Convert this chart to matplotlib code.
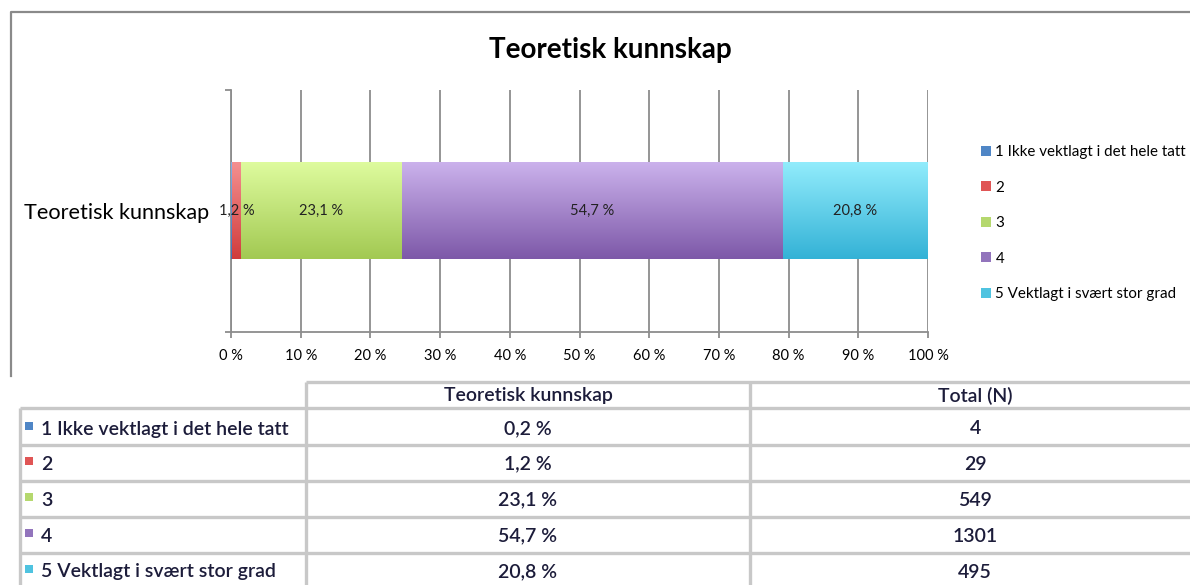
"""Stacked bar of 'Teoretisk kunnskap' with a data table underneath."""

import numpy as np
import matplotlib.pyplot as plt
from matplotlib.colors import LinearSegmentedColormap

plt.rcParams["font.family"] = ["Lato", "DejaVu Sans"]

category = "Teoretisk kunnskap"
series_labels = [
    "1 Ikke vektlagt i det hele tatt",
    "2",
    "3",
    "4",
    "5 Vektlagt i svært stor grad",
]
percent_values = [0.2, 1.2, 23.1, 54.7, 20.8]
total_counts = [4, 29, 549, 1301, 495]
table_headers = ["Teoretisk kunnskap", "Total (N)"]
x_ticks = [0, 10, 20, 30, 40, 50, 60, 70, 80, 90, 100]

# (bottom, top) gradient colours, plus a flat colour for legend keys
gradients = [
    ("#3f74b8", "#7fb0e8"),
    ("#d03c3c", "#f49090"),
    ("#a2c952", "#defb9e"),
    ("#7d58a8", "#cbb2ec"),
    ("#33b2d6", "#92ecfc"),
]
flat_colors = ["#4f86c6", "#e05555", "#b5d86e", "#9274bc", "#4fc3e0"]

W, H = 1190, 585
fig = plt.figure(figsize=(W / 100, H / 100), dpi=100)

# overlay in pixel coordinates for the frame and the table
over = fig.add_axes([0, 0, 1, 1])
over.set_xlim(0, W)
over.set_ylim(H, 0)
over.axis("off")

axis = fig.add_axes([231 / W, 1 - 332 / H, (928 - 231) / W, (332 - 90) / H])

gray = "#8c8c8c"
left = 0.0
for index, value in enumerate(percent_values):
    bars = axis.barh(
        [0], [value], left=left, height=0.4,
        color=flat_colors[index], label=series_labels[index], zorder=2,
    )
    patch = bars.patches[0]
    cmap = LinearSegmentedColormap.from_list(f"g{index}", list(gradients[index]))
    axis.imshow(
        np.linspace(0, 1, 256).reshape(-1, 1),
        extent=(patch.get_x(), patch.get_x() + patch.get_width(),
                patch.get_y(), patch.get_y() + patch.get_height()),
        origin="lower", aspect="auto", cmap=cmap, zorder=3,
    )
    text = "" if value < 1 else f"{value:.1f} %".replace(".", ",")
    axis.bar_label(bars, labels=[text], label_type="center",
                   fontsize=10.5, color="#222222", zorder=5)
    left += value

axis.set_xlim(0, 100)
axis.set_ylim(-0.5, 0.5)
axis.set_xticks(x_ticks, labels=[f"{t} %" for t in x_ticks], fontsize=10.5)
axis.set_yticks([-0.5, 0.5], labels=["", ""])
axis.set_yticks([0], labels=[category], minor=True)
axis.tick_params(axis="y", which="minor", length=0, pad=16, labelsize=15.6)
axis.tick_params(axis="both", which="major", length=4, color=gray, width=1.3)
axis.tick_params(axis="x", pad=8)
axis.grid(axis="x", color=gray, linewidth=1.3, zorder=1)
for side in ("top", "right"):
    axis.spines[side].set_visible(False)
for side in ("left", "bottom"):
    axis.spines[side].set_color(gray)
    axis.spines[side].set_linewidth(1.3)

fig.text(610 / W, 1 - 50 / H, category, ha="center", va="center",
         fontsize=20, fontweight="bold")

handles, labels = axis.get_legend_handles_labels()
fig.legend(handles, labels, loc="upper left", bbox_to_anchor=(975 / W, 1 - 139 / H),
           frameon=False, fontsize=10.9, handlelength=0.65, handleheight=0.65,
           handletextpad=0.3, labelspacing=1.42, borderaxespad=0)

# outer chart frame
over.plot([11, 11, W], [376, 12, 12], color="#8a8a8a", linewidth=1.6)

# table
line_kw = dict(color="#c8c8c8", linewidth=2.4, solid_capstyle="butt")
row_lines = [408, 445, 481, 517, 553]
over.plot([306, W], [382, 382], **line_kw)
for y in row_lines:
    over.plot([20, W], [y, y], **line_kw)
over.plot([20, 20], [408, H], **line_kw)
over.plot([306, 306], [382, H], **line_kw)
over.plot([750, 750], [382, H], **line_kw)

text_color = "#1c1c3a"
cell_kw = dict(va="center", fontsize=14, color=text_color, fontweight="semibold")
over.text(528, 396, table_headers[0], ha="center", **cell_kw)
over.text(975, 396, table_headers[1], ha="center", **cell_kw)
row_centers = [429, 464, 500, 536, 572]
for row, y in enumerate(row_centers):
    over.scatter([29], [y - 3], marker="s", s=40, color=flat_colors[row], linewidths=0)
    over.text(41, y, series_labels[row], ha="left", **cell_kw)
    over.text(528, y, f"{percent_values[row]:.1f} %".replace(".", ","), ha="center", **cell_kw)
    over.text(975, y, str(total_counts[row]), ha="center", **cell_kw)

fig.savefig("out.png", dpi=100, facecolor="white")
